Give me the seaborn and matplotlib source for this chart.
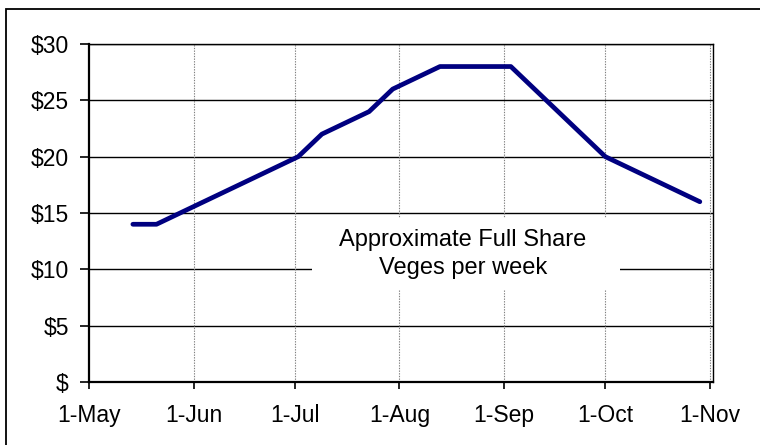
import matplotlib
matplotlib.use("Agg")
import matplotlib.pyplot as plt
from matplotlib.patches import Rectangle
import pandas as pd
import seaborn as sns

# ---- data ----
week_dates = ["2003-05-14", "2003-05-21", "2003-05-28", "2003-06-04", "2003-06-11",
              "2003-06-18", "2003-06-25", "2003-07-02", "2003-07-09", "2003-07-16",
              "2003-07-23", "2003-07-30", "2003-08-06", "2003-08-13", "2003-08-20",
              "2003-08-27", "2003-09-03", "2003-09-10", "2003-09-17", "2003-09-24",
              "2003-10-01", "2003-10-08", "2003-10-15", "2003-10-22", "2003-10-29"]
value_per_week = [14, 14, 15, 16, 17, 18, 19, 20, 22, 23, 24, 26, 27, 28, 28,
                  28, 28, 26, 24, 22, 20, 19, 18, 17, 16]
month_ticks = ["2003-05-01", "2003-06-01", "2003-07-01", "2003-08-01",
               "2003-09-01", "2003-10-01", "2003-11-01"]
month_labels = ["1-May", "1-Jun", "1-Jul", "1-Aug", "1-Sep", "1-Oct", "1-Nov"]
y_ticks = [0, 5, 10, 15, 20, 25, 30]
y_labels = ["$", "$5", "$10", "$15", "$20", "$25", "$30"]
annotation = "Approximate Full Share\nVeges per week"

df = pd.DataFrame({"date": pd.to_datetime(week_dates), "value": value_per_week})

sns.set_theme(style="white")
plt.rcParams["font.family"] = ["Liberation Sans", "DejaVu Sans"]

fig = plt.figure(figsize=(7.6, 4.45), dpi=100)
W, H = 760, 445
ax = fig.add_axes([89 / W, 1 - 382 / H, (713 - 89) / W, (382 - 44) / H])

# outer chart-area border (extends past right/bottom of the image)
fig.patches.append(Rectangle((6 / W, -0.2), 1.5, 1 - 9 / H + 0.2,
                             transform=fig.transFigure, fill=False,
                             edgecolor="black", linewidth=1.3, zorder=0))

sns.lineplot(data=df, x="date", y="value", ax=ax, color="#000080",
             linewidth=3.4, zorder=5)

ax.set_xlim(pd.Timestamp("2003-05-01"), pd.Timestamp("2003-11-01") + pd.Timedelta(days=0.9))
ax.set_ylim(0, 30)

xt = pd.to_datetime(month_ticks)
ax.set_xticks(xt)
ax.set_xticklabels(month_labels)
ax.set_yticks(y_ticks)
ax.set_yticklabels(y_labels)
ax.set_xlabel("")
ax.set_ylabel("")

for y in y_ticks[1:]:
    ax.axhline(y, color="black", linewidth=1.0, zorder=1)
for x in xt[1:]:
    ax.axvline(x, color="#808080", linewidth=0.8, linestyle=(0, (1.2, 1.2)), zorder=1)

for side in ["left", "bottom"]:
    ax.spines[side].set_linewidth(1.6)
    ax.spines[side].set_color("black")
for side in ["top", "right"]:
    ax.spines[side].set_linewidth(1.0)
    ax.spines[side].set_color("black")
    ax.spines[side].set_visible(True)

ax.tick_params(axis="y", direction="out", length=6.5, width=1.2, pad=8,
               labelsize=16.5, colors="black", left=True)
ax.tick_params(axis="x", direction="out", length=5, width=1.2, pad=11,
               labelsize=16.5, colors="black", bottom=True)

# white label box covering gridlines
ax.add_patch(Rectangle(((312 - 89) / 624, (382 - 290) / 338), 308 / 624, 72 / 338,
                       transform=ax.transAxes, facecolor="white", edgecolor="none",
                       zorder=2))
ax.text((463 - 89) / 624, (382 - 254) / 338, annotation, transform=ax.transAxes,
        ha="center", va="center", fontsize=17, color="black", zorder=3,
        linespacing=1.4)

fig.savefig("out.png", dpi=100)
